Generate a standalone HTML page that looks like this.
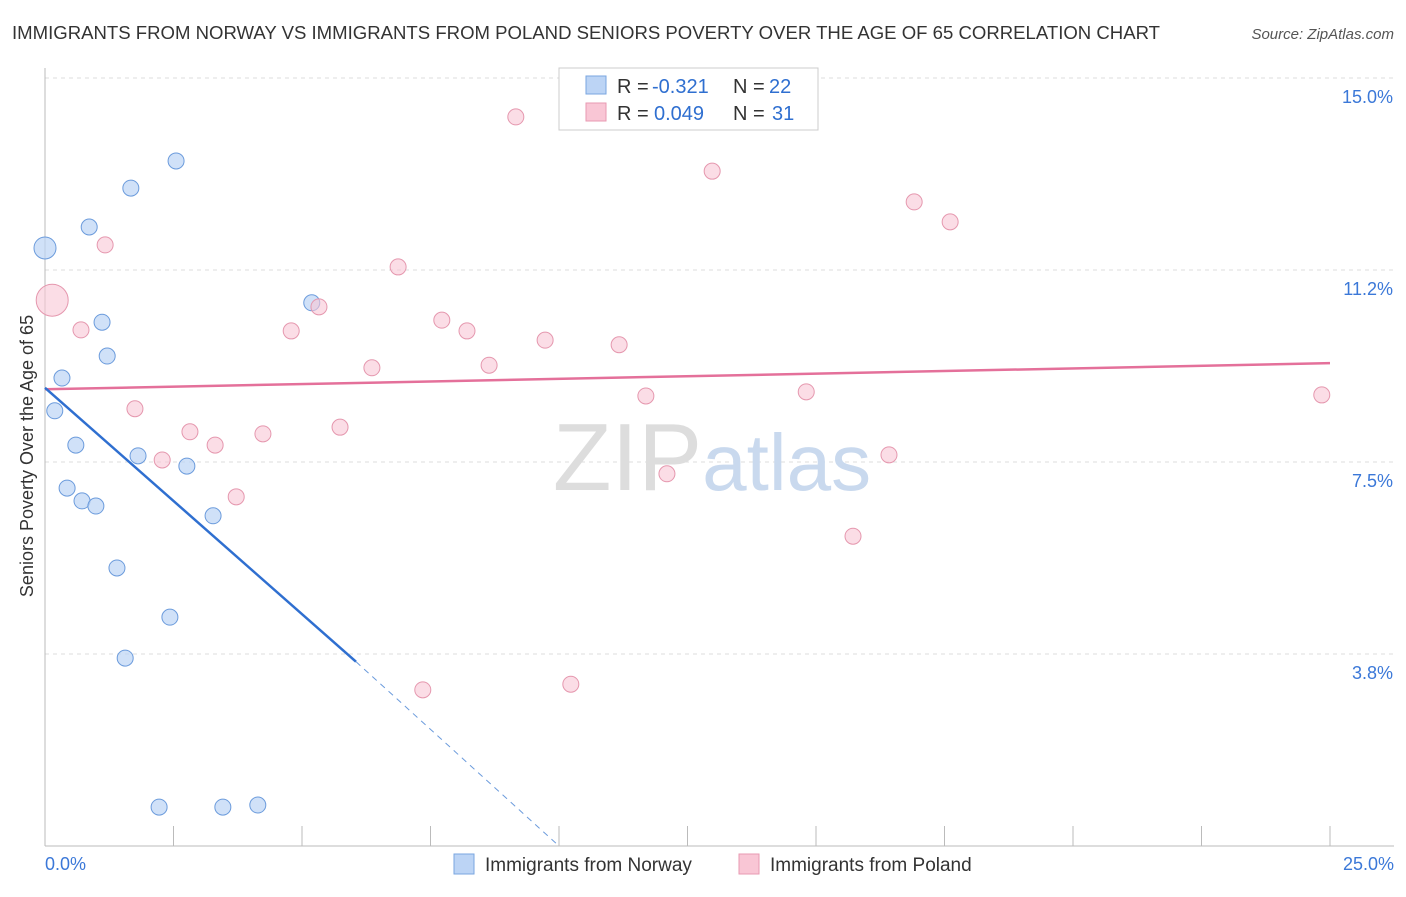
<!DOCTYPE html>
<html><head><meta charset="utf-8"><style>
body{margin:0;background:#fff;font-family:"Liberation Sans",sans-serif;}
svg text{font-family:"Liberation Sans",sans-serif;}
</style></head><body>
<svg id="chart" width="1406" height="892" xmlns="http://www.w3.org/2000/svg">
<text x="12" y="39" font-size="18" fill="#333" textLength="1148" lengthAdjust="spacingAndGlyphs">IMMIGRANTS FROM NORWAY VS IMMIGRANTS FROM POLAND SENIORS POVERTY OVER THE AGE OF 65 CORRELATION CHART</text>
<text x="1394" y="39" font-size="15" fill="#555" text-anchor="end" font-style="italic">Source: ZipAtlas.com</text>
<g id="grid"></g>
<text x="712" y="490" font-size="96" text-anchor="middle" fill="#ddd" font-family="Liberation Serif">ZIP<tspan fill="#c9d9ee" font-family="Liberation Sans" font-size="80">atlas</tspan></text>
<g id="marks"></g>
<text transform="translate(33,456) rotate(-90)" font-size="18" fill="#333" text-anchor="middle">Seniors Poverty Over the Age of 65</text>
<g>
<rect x="559" y="68" width="259" height="62" fill="#fff" stroke="#ccc"/>
<rect x="586" y="76" width="20" height="18" fill="#bcd4f5" stroke="#7aa6e0"/>
<text x="617" y="93" font-size="20" fill="#333">R =</text>
<text x="652" y="93" font-size="20" fill="#2f6fd0">-0.321</text>
<text x="733" y="93" font-size="20" fill="#333">N =</text>
<text x="769" y="93" font-size="20" fill="#2f6fd0">22</text>
<rect x="586" y="103" width="20" height="18" fill="#f9c6d5" stroke="#e89ab2"/>
<text x="617" y="120" font-size="20" fill="#333">R =</text>
<text x="654" y="120" font-size="20" fill="#2f6fd0">0.049</text>
<text x="733" y="120" font-size="20" fill="#333">N =</text>
<text x="772" y="120" font-size="20" fill="#2f6fd0">31</text>
</g>
<g>
<rect x="454" y="854" width="20" height="20" fill="#bcd4f5" stroke="#7aa6e0"/>
<text x="485" y="871" font-size="19" fill="#333">Immigrants from Norway</text>
<rect x="739" y="854" width="20" height="20" fill="#f9c6d5" stroke="#e89ab2"/>
<text x="770" y="871" font-size="19" fill="#333">Immigrants from Poland</text>
</g>
</svg>
<script>
const yTicks=[15.0,11.25,7.5,3.75];
const yTickLabels=["15.0%","11.2%","7.5%","3.8%"];
const xTicks=[0,2.5,5,7.5,10,12.5,15,17.5,20,22.5,25];
const norwayX=[0,1.67,2.55,0.86,1.11,1.21,0.33,0.19,0.60,1.81,2.76,0.43,0.72,0.99,3.27,1.40,2.43,1.56,2.22,3.46,4.14,5.19];
const norwayY=[11.68,12.85,13.38,12.09,10.23,9.57,9.14,8.50,7.83,7.62,7.42,6.99,6.74,6.64,6.45,5.43,4.47,3.67,0.76,0.76,0.80,10.61];
const norwayR=[11,8,8,8,8,8,8,8,8,8,8,8,8,8,8,8,8,8,8,8,8,8];
const polandX=[0.14,9.16,12.98,16.91,17.61,1.17,6.87,5.33,0.70,4.79,7.72,8.21,9.73,11.17,8.64,6.36,11.69,14.81,24.84,1.75,2.82,3.31,4.24,5.74,2.28,16.42,12.10,3.72,15.72,7.35,10.23];
const polandY=[10.66,14.24,13.18,12.58,12.19,11.74,11.31,10.53,10.08,10.06,10.27,10.06,9.88,9.79,9.39,9.34,8.79,8.87,8.81,8.54,8.09,7.83,8.05,8.18,7.54,7.64,7.27,6.82,6.05,3.05,3.16];
const polandR=[16,8,8,8,8,8,8,8,8,8,8,8,8,8,8,8,8,8,8,8,8,8,8,8,8,8,8,8,8,8,8];
const norwayTrend=[[0,8.95],[6.05,3.6]];
const norwayTrendExt=[[6.05,3.6],[10.0,0.0]];
const polandTrend=[[0,8.92],[25,9.43]];
const X=v=>45+v*51.4, Y=v=>78+(15-v)*51.2;
const NS="http://www.w3.org/2000/svg";
const grid=document.getElementById('grid'), marks=document.getElementById('marks');
function mk(tag,attrs,parent){const e=document.createElementNS(NS,tag);for(const k in attrs)e.setAttribute(k,attrs[k]);parent.appendChild(e);return e;}
yTicks.forEach((t,i)=>{
 const l=mk('line',{x1:45,x2:1394,y1:Y(t),y2:Y(t),stroke:'#ddd','stroke-dasharray':'4,4'},grid);
 
 
 const tx=mk('text',{x:1393,y:Y(t)+25,'font-size':18,fill:'#3b78d8','text-anchor':'end'},grid);
 tx.textContent=yTickLabels[i];
 
 
});
const ax=mk('line',{x1:45,x2:1394,y1:846,y2:846,stroke:'#bbb'},grid);


const ay=mk('line',{x1:45,x2:45,y1:68,y2:846,stroke:'#bbb'},grid);


xTicks.forEach(t=>{
 const l=mk('line',{x1:X(t),x2:X(t),y1:826,y2:846,stroke:'#bbb'},grid);
 
 
});
[[0,'0.0%','start',45],[25,'25.0%','end',1394]].forEach(a=>{
 const tx=mk('text',{x:a[3],y:870,'font-size':18,fill:'#3b78d8','text-anchor':a[2]},grid);
 tx.textContent=a[1];
 
 
});
norwayX.forEach((v,i)=>{
 const c=mk('circle',{cx:X(v),cy:Y(norwayY[i]),r:norwayR[i],fill:'#bcd4f5','fill-opacity':0.7,stroke:'#6b9bdc','stroke-width':1},marks);
 
 
});
polandX.forEach((v,i)=>{
 const c=mk('circle',{cx:X(v),cy:Y(polandY[i]),r:polandR[i],fill:'#f9c6d5','fill-opacity':0.6,stroke:'#e597ae','stroke-width':1},marks);
 
 
});
const pl=mk('line',{x1:X(polandTrend[0][0]),y1:Y(polandTrend[0][1]),x2:X(polandTrend[1][0]),y2:Y(polandTrend[1][1]),stroke:'#e4709a','stroke-width':2.5},marks);


const nl=mk('line',{x1:X(norwayTrend[0][0]),y1:Y(norwayTrend[0][1]),x2:X(norwayTrend[1][0]),y2:Y(norwayTrend[1][1]),stroke:'#2f6fd0','stroke-width':2.5},marks);


const nd=mk('line',{x1:X(norwayTrendExt[0][0]),y1:Y(norwayTrendExt[0][1]),x2:X(norwayTrendExt[1][0]),y2:Y(norwayTrendExt[1][1]),stroke:'#6b9bdc','stroke-width':1,'stroke-dasharray':'6,5'},marks);


</script>
</body></html>
